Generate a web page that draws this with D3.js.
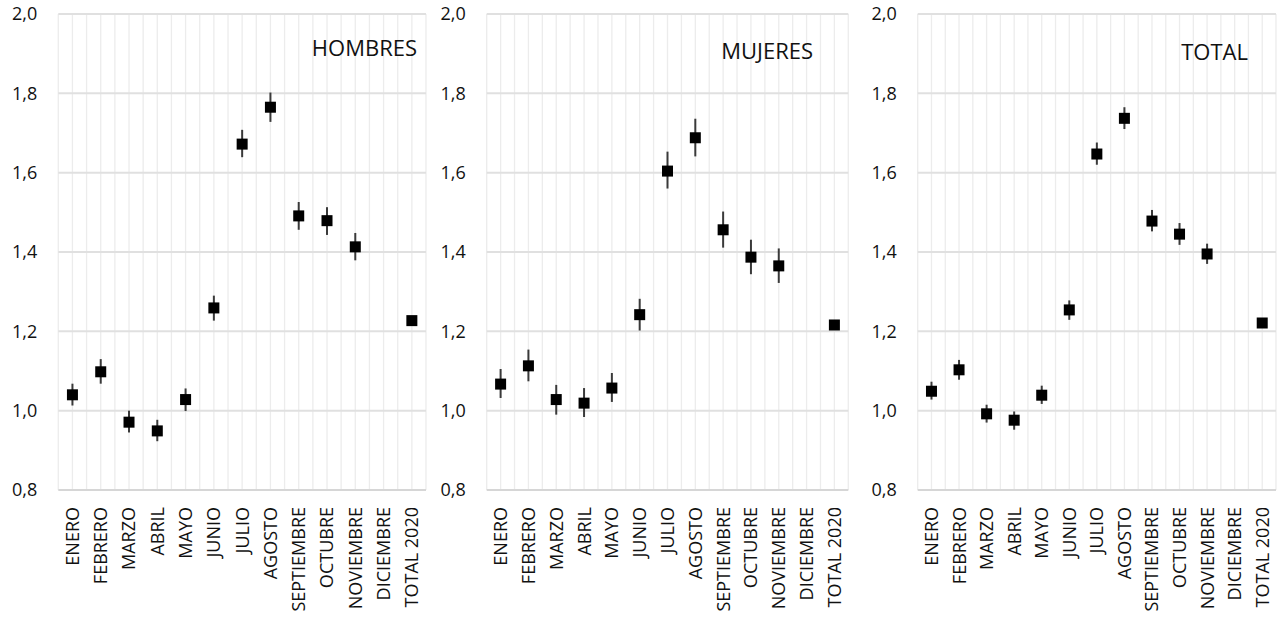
<!DOCTYPE html>
<html>
<head>
<meta charset="utf-8">
<script src="https://cdn.jsdelivr.net/npm/d3@7"></script>
<style>
  html, body { margin: 0; padding: 0; background: #fff; }
  svg { display: block; }
  text { font-family: "Open Sans", "Noto Sans", sans-serif; fill: #111; }
</style>
</head>
<body>
<svg id="chart" width="1284" height="621"></svg>
<script>
// Categories along the x axis
const months = ["ENERO", "FEBRERO", "MARZO", "ABRIL", "MAYO", "JUNIO", "JULIO",
  "AGOSTO", "SEPTIEMBRE", "OCTUBRE", "NOVIEMBRE", "DICIEMBRE", "TOTAL 2020"];

// Y axis ticks
const yTicks = [0.8, 1.0, 1.2, 1.4, 1.6, 1.8, 2.0];

// Panel titles
const panelTitles = ["HOMBRES", "MUJERES", "TOTAL"];

// Ratio estimate per month with lower / upper confidence limits (no data for DICIEMBRE)
const hombresValue = [1.040, 1.098, 0.971, 0.949, 1.028, 1.259, 1.672, 1.765, 1.491, 1.479, 1.413, null, 1.227];
const hombresLow   = [1.013, 1.068, 0.945, 0.923, 0.999, 1.227, 1.639, 1.728, 1.456, 1.443, 1.379, null, 1.222];
const hombresHigh  = [1.068, 1.130, 1.000, 0.977, 1.056, 1.290, 1.708, 1.802, 1.526, 1.513, 1.448, null, 1.232];

const mujeresValue = [1.067, 1.113, 1.028, 1.019, 1.057, 1.242, 1.604, 1.688, 1.456, 1.387, 1.365, null, 1.216];
const mujeresLow   = [1.032, 1.074, 0.990, 0.984, 1.022, 1.202, 1.560, 1.641, 1.411, 1.344, 1.322, null, 1.211];
const mujeresHigh  = [1.105, 1.154, 1.065, 1.057, 1.095, 1.282, 1.653, 1.736, 1.502, 1.431, 1.409, null, 1.221];

const totalValue = [1.049, 1.103, 0.992, 0.976, 1.039, 1.254, 1.647, 1.737, 1.478, 1.445, 1.395, null, 1.221];
const totalLow   = [1.028, 1.078, 0.970, 0.952, 1.017, 1.229, 1.620, 1.710, 1.452, 1.418, 1.370, null, 1.217];
const totalHigh  = [1.073, 1.128, 1.015, 0.998, 1.063, 1.278, 1.676, 1.765, 1.506, 1.473, 1.421, null, 1.225];

const seriesList = [
  { value: hombresValue, low: hombresLow, high: hombresHigh },
  { value: mujeresValue, low: mujeresLow, high: mujeresHigh },
  { value: totalValue, low: totalLow, high: totalHigh }
];

// Layout of the three small multiples
const panels = [
  { x0: 58.3, x1: 426, titleX: 417, titleY: 56 },
  { x0: 486.7, x1: 848.3, titleX: 813, titleY: 59 },
  { x0: 917.7, x1: 1276, titleX: 1248, titleY: 60 }
];
const plotTop = 14, plotBottom = 490;

const locale = d3.formatLocale({ decimal: ",", thousands: ".", grouping: [3], currency: ["", " €"] });
const fmt = locale.format(".1f");

const svg = d3.select("#chart");
const y = d3.scaleLinear().domain([0.8, 2.0]).range([plotBottom, plotTop]);

panels.forEach((p, pi) => {
  const s = seriesList[pi];
  const x = d3.scaleBand().domain(months).range([p.x0, p.x1]).padding(0);
  const bw = x.bandwidth();
  const g = svg.append("g");

  // vertical gridlines at every half category
  const halfSteps = d3.range(0, months.length * 2 + 1);
  g.append("g").selectAll("line").data(halfSteps).join("line")
    .attr("x1", i => p.x0 + i * bw / 2)
    .attr("x2", i => p.x0 + i * bw / 2)
    .attr("y1", plotTop).attr("y2", plotBottom)
    .attr("stroke", "#ececec").attr("stroke-width", 1.3);

  // horizontal gridlines
  g.append("g").selectAll("line").data(yTicks).join("line")
    .attr("x1", p.x0).attr("x2", p.x1)
    .attr("y1", d => y(d)).attr("y2", d => y(d))
    .attr("stroke", d => d === 0.8 ? "#d6d6d6" : "#e0e0e0")
    .attr("stroke-width", 2);

  // y axis labels
  const yAxis = d3.axisLeft(y).tickValues(yTicks).tickFormat(fmt).tickSize(0).tickPadding(21);
  const ya = g.append("g").attr("transform", `translate(${p.x0},0)`).call(yAxis);
  ya.select(".domain").remove();
  ya.selectAll("text").attr("font-size", 18).attr("fill", "#111")
    .attr("font-family", '"Open Sans", sans-serif');

  // x axis category labels, rotated
  const xAxis = d3.axisBottom(x).tickSize(0).tickPadding(0);
  const xa = g.append("g").attr("transform", `translate(0,${plotBottom})`).call(xAxis);
  xa.select(".domain").remove();
  xa.selectAll("text")
    .attr("font-size", 18).attr("fill", "#111")
    .attr("font-family", '"Open Sans", sans-serif')
    .attr("text-anchor", "end")
    .attr("x", 0).attr("y", 0)
    .attr("dy", "0.36em")
    .attr("transform", "translate(0,17) rotate(-90)");

  const pts = months.map((m, i) => ({ m, v: s.value[i], lo: s.low[i], hi: s.high[i] }))
    .filter(d => d.v !== null);

  // confidence interval bars
  g.append("g").selectAll("line").data(pts).join("line")
    .attr("x1", d => x(d.m) + bw / 2).attr("x2", d => x(d.m) + bw / 2)
    .attr("y1", d => y(d.hi)).attr("y2", d => y(d.lo))
    .attr("stroke", "#3a3a3a").attr("stroke-width", 2);

  // point markers
  const ms = 11;
  g.append("g").selectAll("rect").data(pts).join("rect")
    .attr("x", d => x(d.m) + bw / 2 - ms / 2)
    .attr("y", d => y(d.v) - ms / 2)
    .attr("width", ms).attr("height", ms)
    .attr("fill", "#000");

  // panel title
  g.append("text")
    .attr("x", p.titleX).attr("y", p.titleY)
    .attr("text-anchor", "end")
    .attr("font-size", 22)
    .text(panelTitles[pi]);
});
</script>
</body>
</html>
